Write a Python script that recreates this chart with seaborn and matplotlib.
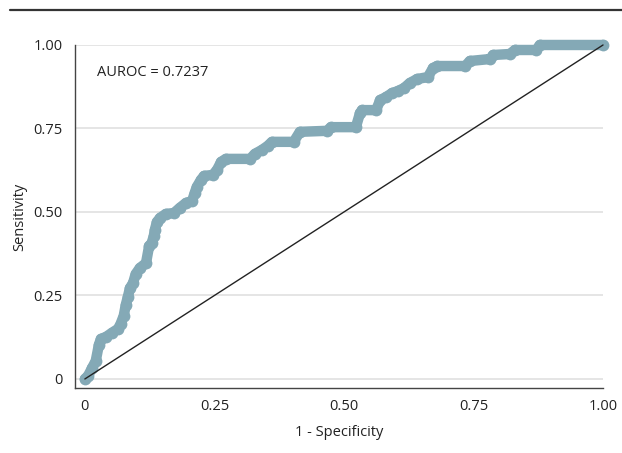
import matplotlib
matplotlib.use("Agg")
import matplotlib.pyplot as plt
import seaborn as sns
import pandas as pd
from matplotlib.lines import Line2D

# ROC curve vertices
fpr = [0.0, 0.006, 0.014, 0.021, 0.027, 0.031, 0.041, 0.052, 0.064, 0.069,
       0.075, 0.079, 0.083, 0.087, 0.093, 0.098, 0.106, 0.118, 0.124, 0.129,
       0.133, 0.135, 0.139, 0.145, 0.156, 0.172, 0.183, 0.195, 0.207, 0.212,
       0.216, 0.224, 0.230, 0.247, 0.255, 0.263, 0.272, 0.319, 0.328, 0.342,
       0.353, 0.361, 0.403, 0.415, 0.467, 0.475, 0.523, 0.531, 0.535, 0.562,
       0.570, 0.581, 0.593, 0.604, 0.616, 0.627, 0.641, 0.662, 0.672, 0.680,
       0.734, 0.743, 0.782, 0.788, 0.820, 0.830, 0.871, 0.878, 1.0]
tpr = [0.0, 0.009, 0.033, 0.054, 0.102, 0.120, 0.126, 0.138, 0.150, 0.165,
       0.189, 0.222, 0.246, 0.272, 0.287, 0.314, 0.332, 0.347, 0.398, 0.407,
       0.428, 0.446, 0.470, 0.482, 0.494, 0.497, 0.512, 0.527, 0.533, 0.557,
       0.575, 0.596, 0.608, 0.611, 0.626, 0.650, 0.659, 0.659, 0.674, 0.686,
       0.698, 0.710, 0.710, 0.740, 0.743, 0.754, 0.754, 0.796, 0.805, 0.805,
       0.835, 0.844, 0.856, 0.862, 0.871, 0.886, 0.898, 0.904, 0.931, 0.937,
       0.937, 0.952, 0.958, 0.970, 0.973, 0.985, 0.985, 1.0, 1.0]
auroc = 0.7237
ticks = [0, 0.25, 0.5, 0.75, 1.0]
tick_labels = ["0", "0.25", "0.50", "0.75", "1.00"]

roc = pd.DataFrame({"fpr": fpr, "tpr": tpr})
ref = pd.DataFrame({"fpr": [0.0, 1.0], "tpr": [0.0, 1.0]})

sns.set_style("white")
plt.rcParams["font.family"] = ["Open Sans", "DejaVu Sans"]

fig = plt.figure(figsize=(6.22, 4.53), dpi=100)
ax = fig.add_axes([0.1206, 0.1435, 0.8489, 0.7572])

curve_color = "#84a9b6"
sns.lineplot(data=roc, x="fpr", y="tpr", sort=False, estimator=None, ax=ax,
             color=curve_color, linewidth=7.5, marker="o", markersize=8.5,
             markeredgewidth=0, solid_joinstyle="round", solid_capstyle="round",
             clip_on=False, zorder=3)
sns.lineplot(data=ref, x="fpr", y="tpr", ax=ax, color="#222222",
             linewidth=1.0, zorder=4, clip_on=False)

ax.set_xlim(-0.019, 1.0)
ax.set_ylim(-0.027, 1.0)
ax.set_xticks(ticks)
ax.set_xticklabels(tick_labels)
ax.set_yticks(ticks)
ax.set_yticklabels(tick_labels)
ax.yaxis.grid(True, color="#e0e0e0", linewidth=1.2, zorder=0)
ax.xaxis.grid(False)
ax.set_axisbelow(True)
for side in ["top", "right"]:
    ax.spines[side].set_visible(False)
for side in ["left", "bottom"]:
    ax.spines[side].set_color("#444444")
    ax.spines[side].set_linewidth(1.0)
ax.tick_params(axis="both", direction="out", length=4, width=0.8,
               color="#444444", labelsize=10.5, labelcolor="#222222", pad=4)
ax.tick_params(axis="y", length=5)
ax.set_xlabel("1 - Specificity", fontsize=10.5, color="#222222", labelpad=8)
ax.set_ylabel("Sensitivity", fontsize=10.5, color="#222222", labelpad=4)

ax.text(0.023, 0.919, f"AUROC = {auroc}", fontsize=10.5, color="#222222",
        ha="left", va="center")

fig.add_artist(Line2D([0.016, 1.0], [0.978, 0.978], transform=fig.transFigure,
                      color="#333333", linewidth=1.6))

fig.savefig("out.png", dpi=100)
